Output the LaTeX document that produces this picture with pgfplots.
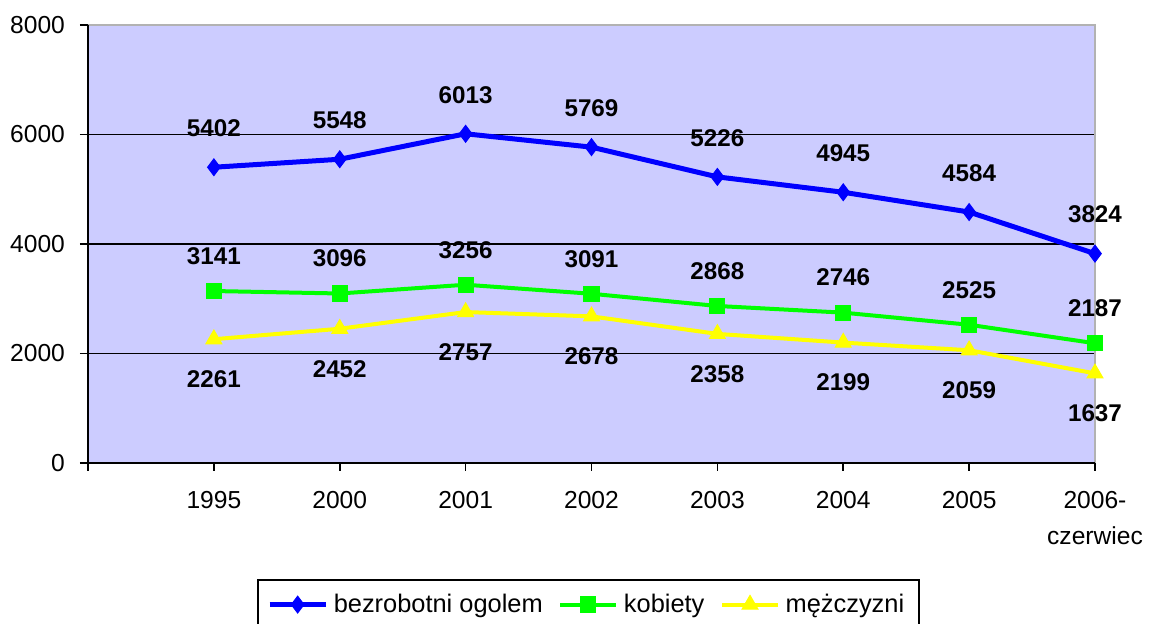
\documentclass[border=0pt]{standalone}
\usepackage{pgfplots}
\pgfplotsset{compat=1.18}
\usepackage{fontspec}
\setmainfont{Liberation Sans}
\definecolor{bgc}{RGB}{204,204,255}
\definecolor{cblue}{RGB}{0,0,255}
\definecolor{cgreen}{RGB}{0,255,0}
\definecolor{cyellow}{RGB}{255,255,0}
\begin{document}
\begin{tikzpicture}
\begin{axis}[
  scale only axis,
  width=503.5pt, height=219pt,
  xmin=0, xmax=8, ymin=0, ymax=8000,
  xtick={0,1,2,3,4,5,6,7,8},
  xticklabels={,1995,2000,2001,2002,2003,2004,2005,{2006-\\czerwiec}},
  ytick={0,2000,4000,6000,8000},
  xtick pos=bottom, ytick pos=left,
  tick align=outside,
  major tick length=4pt,
  tick style={black, line width=0.8pt},
  x tick label style={align=center, yshift=-6.5pt},
  y tick label style={xshift=-4pt},
  ymajorgrids,
  grid style={black, line width=0.8pt},
  axis line style={black, line width=0.8pt},
  axis background/.style={fill=bgc},
  /pgf/number format/1000 sep={},
  /pgf/number format/assume math mode=true,
  tick label style={font=\fontsize{12.3}{18}\selectfont},
  nodes near coords,
  point meta=y,
  clip=false,
  legend columns=3,
  legend style={at={(0.497,-0.265)}, anchor=north, draw=black, line width=0.8pt, fill=white,
    font=\fontsize{12.7}{15}\selectfont, column sep=0pt, inner xsep=4.5pt, inner ysep=5pt,
    nodes={inner xsep=2.8pt}},
  legend image code/.code={
    \draw[mark repeat=2,mark phase=2] plot coordinates {(0pt,0pt) (14pt,0pt) (28pt,0pt)};
  },
]
\addplot[cblue, line width=2.5pt, mark=diamond*, mark size=4.2pt, mark options={solid, line width=0.5pt},
  every node near coord/.append style={black, font=\bfseries\fontsize{12.1}{14}\selectfont, anchor=center, yshift=19.5pt}]
  coordinates {(1,5402) (2,5548) (3,6013) (4,5769) (5,5226) (6,4945) (7,4584) (8,3824)};
\addlegendentry{bezrobotni ogolem\hbox to 5pt{}}
\addplot[cgreen, line width=2pt, mark=square*, mark size=3.8pt, mark options={solid, line width=0.5pt},
  every node near coord/.append style={black, font=\bfseries\fontsize{12.1}{14}\selectfont, anchor=center, yshift=17.5pt}]
  coordinates {(1,3141) (2,3096) (3,3256) (4,3091) (5,2868) (6,2746) (7,2525) (8,2187)};
\addlegendentry{kobiety\hbox to 5pt{}}
\addplot[cyellow, line width=2pt, mark=triangle*, mark size=4.6pt, mark options={solid, line width=0.5pt},
  every node near coord/.append style={black, font=\bfseries\fontsize{12.1}{14}\selectfont, anchor=center, yshift=-20pt}]
  coordinates {(1,2261) (2,2452) (3,2757) (4,2678) (5,2358) (6,2199) (7,2059) (8,1637)};
\addlegendentry{mężczyzni}
\draw[gray!60, line width=1pt] (rel axis cs:0,1) -- (rel axis cs:1,1) -- (rel axis cs:1,0);
\draw[black, line width=0.8pt] (rel axis cs:0,1) -- (rel axis cs:0,0) -- (rel axis cs:1,0);
\end{axis}
\pgfresetboundingbox
\path[use as bounding box] (-44pt,-80.5pt) rectangle (531pt,231.5pt);
\end{tikzpicture}
\end{document}
